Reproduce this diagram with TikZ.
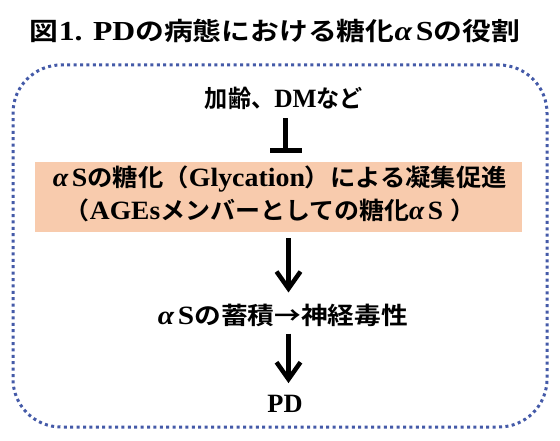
\documentclass[tikz,border=0pt]{standalone}
\usepackage{fontspec}
\setmainfont{Liberation Serif}[Scale=1.1]
\newfontfamily\jpf{Noto Sans CJK JP}[UprightFont={* Bold},BoldFont={* Bold},ItalicFont={* Bold},BoldItalicFont={* Bold}]
\newcommand\J[1]{{\jpf #1}}
\newcommand\aS{\textit{α}\kern3pt S}
\usetikzlibrary{arrows.meta}
\definecolor{peach}{HTML}{F8CBAD}
\definecolor{dotblue}{RGB}{68,90,168}
\begin{document}
\begin{tikzpicture}[x=1pt,y=-1pt,
  txt/.style={inner sep=0pt, font=\bfseries\fontsize{24}{28}\selectfont},
  ttl/.style={inner sep=0pt, font=\bfseries\fontsize{25}{29}\selectfont},
  frame/.style={draw=dotblue, line width=3pt, dash pattern=on 3pt off 3.4pt, rounded corners=48pt, inner sep=0pt},
  panel/.style={fill=peach, inner sep=0pt},
  arr/.style={line width=4.5pt, -{Straight Barb[length=17pt,width=24pt]}},
  inhib/.style={line width=5pt, -{Bar[width=32pt]}}]
\useasboundingbox (0,0) rectangle (560,441);
\fill[white] (0,0) rectangle (560,441);
\node[frame, minimum width=534pt, minimum height=362pt] (frm) at (280,246) {};
\node[ttl] (title) at (275,31) {\resizebox{490pt}{\height}{\J{図}1. PD\J{の病態における糖化}\aS\J{の役割}}};
\node[txt] (a) at (284,98) {\resizebox{158pt}{\height}{\J{加齢、}DM\J{など}}};
\node[panel, minimum width=487pt, minimum height=70pt] (b) at (278.5,197) {};
\node[txt] (b1) at (280,179) {\resizebox{454pt}{\height}{\aS\J{の糖化（}Glycation\J{）による凝集促進}}};
\node[txt] (b2) at (270,210) {\resizebox{410pt}{\height}{\J{（}AGEs\J{メンバーとしての糖化}\aS\ \J{）}}};
\node[txt] (c) at (283,315) {\resizebox{250pt}{\height}{\aS\J{の蓄積→神経毒性}}};
\node[txt] (d) at (285,404) {PD};
\coordinate (tb) at (285.5,153);
\coordinate (ax) at (288.5,0);
\draw[inhib, shorten <=9pt] (a.south -| tb) -- (tb);
\draw[arr, shorten <=6pt, shorten >=11pt] (b.south -| ax) -- (c.north -| ax);
\draw[arr, shorten <=7pt, shorten >=12pt] (c.south -| ax) -- (d.north -| ax);
\end{tikzpicture}
\end{document}
